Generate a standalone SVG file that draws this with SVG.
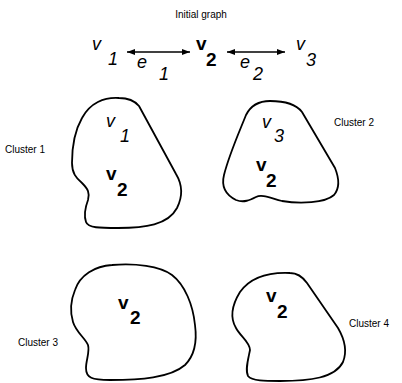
<svg xmlns="http://www.w3.org/2000/svg" width="402" height="383" viewBox="0 0 402 383">
<style>
.lbl{font-family:"Liberation Sans",Arial,sans-serif;font-size:10px;fill:#000}
.it{font-family:"Liberation Sans",Arial,sans-serif;font-size:18px;font-style:italic;fill:#000}
.bd{font-family:"Liberation Sans",Arial,sans-serif;font-size:19px;font-weight:bold;fill:#000}
.blob{fill:none;stroke:#000;stroke-width:1.8;stroke-linejoin:round}
.edge{stroke:#000;stroke-width:1.5;fill:none}
</style>
<defs>
<marker id="ah" viewBox="0 0 8 6" refX="8" refY="3" markerWidth="8" markerHeight="6" markerUnits="userSpaceOnUse" orient="auto-start-reverse">
<path d="M0,0 L8,3 L0,6 Z" fill="#000"/>
</marker>
</defs>
<text class="lbl" x="201" y="18" text-anchor="middle">Initial graph</text>
<g id="v1"><text class="it" x="92" y="50">v</text><text class="it" x="108" y="65">1</text></g>
<g id="v2"><text class="bd" x="196" y="50">v</text><text class="bd" x="206" y="66">2</text></g>
<g id="v3"><text class="it" x="296" y="50">v</text><text class="it" x="306" y="66">3</text></g>
<g id="connectors">
<g id="e1"><line class="edge" x1="127" y1="52" x2="190" y2="52" marker-start="url(#ah)" marker-end="url(#ah)"/><text class="it" x="137" y="68">e</text><text class="it" x="159" y="80">1</text></g>
<g id="e2"><line class="edge" x1="227" y1="52" x2="285" y2="52" marker-start="url(#ah)" marker-end="url(#ah)"/><text class="it" x="240" y="68">e</text><text class="it" x="253" y="80">2</text></g>
</g>
<g id="cluster1">
<path class="blob" d="M119,98 C104,97 90,103 82,118 C74,132 72,150 72,163 C72,173 76,178 82,183 C88,189 90,193 88,200 C85,208 84,216 86,222 C88,228 100,228 118,228 C145,228 168,225 177,208 C183,196 182,184 176,174 L139,106 C134,100 127,98 119,98 Z"/>
<text class="it" x="106" y="127">v</text><text class="it" x="120" y="142">1</text>
<text class="bd" x="106" y="180">v</text><text class="bd" x="117" y="196">2</text>
<text class="lbl" x="5" y="153">Cluster 1</text>
</g>
<g id="cluster2">
<path class="blob" d="M270,101 C258,101 250,107 246,115 C238,135 229,155 224,175 C221,187 226,195 236,200 C244,203 250,200 256,197 C262,194 270,198 282,201 C300,204 325,203 334,195 C340,188 339,178 335,168 L302,112 C296,104 285,101 270,101 Z"/>
<text class="it" x="262" y="128">v</text><text class="it" x="274" y="142">3</text>
<text class="bd" x="256" y="171">v</text><text class="bd" x="266" y="187">2</text>
<text class="lbl" x="334" y="126">Cluster 2</text>
</g>
<g id="cluster3">
<path class="blob" d="M112,265 C95,266 80,275 75,290 C70,302 70,312 73,322 C76,332 85,338 88,345 C90,352 86,360 86,368 C86,378 92,380 110,380 C140,380 170,378 185,365 C195,355 197,340 195,325 C193,305 185,285 172,275 C160,266 135,263 112,265 Z"/>
<text class="bd" x="118" y="309">v</text><text class="bd" x="130" y="324">2</text>
<text class="lbl" x="18" y="346">Cluster 3</text>
</g>
<g id="cluster4">
<path class="blob" d="M290,273 C268,272 250,278 240,292 C232,305 230,318 236,328 C240,336 250,342 250,350 C248,360 245,370 248,376 C252,381 265,381 280,381 C310,381 335,378 343,362 C347,352 345,340 338,328 L307,283 C302,276 297,273 290,273 Z"/>
<text class="bd" x="266" y="302">v</text><text class="bd" x="277" y="318">2</text>
<text class="lbl" x="349" y="327">Cluster 4</text>
</g>
</svg>
